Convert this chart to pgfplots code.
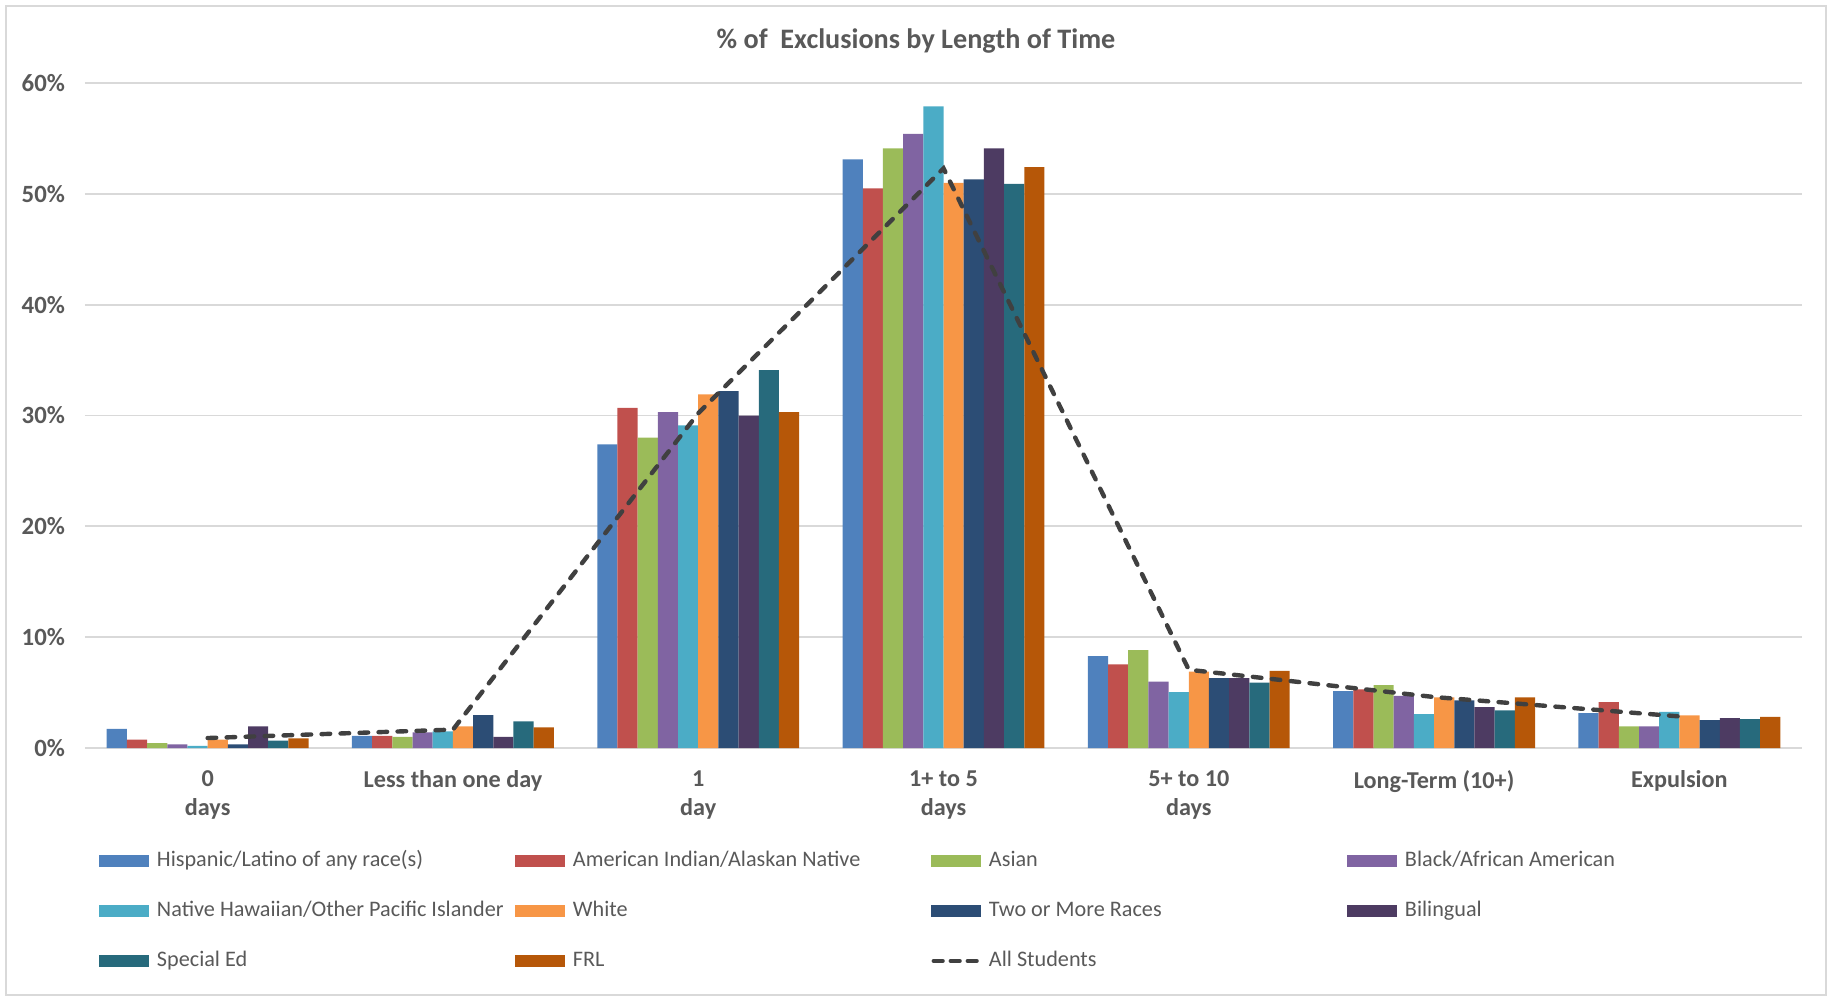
\documentclass[border=0pt]{standalone}
\usepackage{fontspec}
\setmainfont{Carlito}
\usepackage{pgfplots}
\usepackage{pgfplotstable}
\pgfplotsset{compat=1.18}
\definecolor{cHis}{HTML}{4F81BD}
\definecolor{cAmi}{HTML}{C0504D}
\definecolor{cAsi}{HTML}{9BBB59}
\definecolor{cBla}{HTML}{8064A2}
\definecolor{cNhp}{HTML}{4BACC6}
\definecolor{cWhi}{HTML}{F79646}
\definecolor{cTwo}{HTML}{2C4D75}
\definecolor{cBil}{HTML}{4D3B62}
\definecolor{cSpe}{HTML}{276A7C}
\definecolor{cFrl}{HTML}{B65708}
\definecolor{cAll}{HTML}{404040}
\definecolor{txtgray}{HTML}{595959}
\definecolor{gridgray}{HTML}{D9D9D9}

\pgfplotstableread{
x his ami asi bla nhp whi two bil spe frl all
0 1.72 0.75 0.45 0.33 0.20 0.75 0.33 1.96 0.66 0.87 0.90
1 1.10 1.10 1.00 1.40 1.50 1.96 2.96 1.00 2.40 1.87 1.66
2 27.4 30.7 28.0 30.3 29.1 31.9 32.2 30.0 34.1 30.3 30.2
3 53.1 50.5 54.1 55.4 57.9 51.0 51.3 54.1 50.9 52.4 52.3
4 8.30 7.54 8.83 6.00 5.05 6.90 6.30 6.30 5.90 6.97 7.06
5 5.13 5.30 5.68 4.71 3.06 4.56 4.29 3.69 3.39 4.56 4.60
6 3.15 4.14 1.95 1.95 3.27 2.94 2.52 2.70 2.61 2.82 2.85
}\data

\newcommand{\bplot}[4]{%
  \addplot[draw=none, fill=#1, ybar, bar width=0.0823, bar shift=#2,
    legend image code/.code={\fill[#1] (0pt,-3pt) rectangle (25pt,3pt);}]
    table[x=x, y=#3]{\data};
  \addlegendentry{\makebox[183pt][l]{\hspace{3.8pt}#4}}}

\begin{document}
\begin{tikzpicture}
\path[use as bounding box] (-42.5pt,-124.5pt) rectangle (872pt,374pt);
\draw[gridgray, line width=0.8pt] (-39.5pt,-123.5pt) rectangle (870.5pt,371pt);
\begin{axis}[
  at={(0,0)}, anchor=south west,
  scale only axis, width=858.5pt, height=332.5pt,
  xmin=-0.5, xmax=6.5, ymin=0, ymax=60,
  axis line style={draw=none},
  major tick length=0pt, tick style={draw=none},
  ymajorgrids, grid style={color=gridgray, line width=0.9pt},
  ytick={0,10,20,30,40,50,60},
  yticklabels={0\%,10\%,20\%,30\%,40\%,50\%,60\%},
  yticklabel style={anchor=east, xshift=-6.5pt, font=\bfseries\fontsize{12.4}{14}\selectfont, text=txtgray},
  xtick={0,1,2,3,4,5,6},
  xticklabels={{0\\days},{Less than one day},{1\\day},{1+ to 5\\days},{5+ to 10\\days},{Long-Term (10+)},{Expulsion}},
  xticklabel style={align=center, anchor=north, yshift=-7.75pt, font=\bfseries\fontsize{12.1}{14.5}\selectfont, text=txtgray},
  legend columns=4,
  legend style={at={(0.00815,-0.1535)}, anchor=north west, draw=none, fill=none,
    inner sep=0pt, column sep=0pt, row sep=14.5pt,
    font=\fontsize{11.1}{13}\selectfont, text=txtgray,
    nodes={inner sep=0pt, text height=8pt, text depth=2.5pt}},
]
\bplot{cHis}{-0.37035}{his}{Hispanic/Latino of any race(s)}
\bplot{cAmi}{-0.28805}{ami}{American Indian/Alaskan Native}
\bplot{cAsi}{-0.20575}{asi}{Asian}
\bplot{cBla}{-0.12345}{bla}{Black/African American}
\bplot{cNhp}{-0.04115}{nhp}{Native Hawaiian/Other Pacific Islander}
\bplot{cWhi}{0.04115}{whi}{White}
\bplot{cTwo}{0.12345}{two}{Two or More Races}
\bplot{cBil}{0.20575}{bil}{Bilingual}
\bplot{cSpe}{0.28805}{spe}{Special Ed}
\bplot{cFrl}{0.37035}{frl}{FRL}
\addplot[cAll, line width=2.2pt, dash pattern=on 4.3pt off 5.2pt, line cap=round, sharp plot, mark=none,
  legend image code/.code={\draw[cAll, line width=2pt, dash pattern=on 4.6pt off 3.9pt, line cap=round] (1.1pt,0pt) -- (24pt,0pt);}]
  table[x=x, y=all]{\data};
\addlegendentry{\makebox[183pt][l]{\hspace{3.8pt}All Students}}
\end{axis}
\node[font=\bfseries\fontsize{14.1}{16}\selectfont, text=txtgray] at (415.5pt,353.5pt) {\%~of~~Exclusions by Length of Time};
\end{tikzpicture}
\end{document}
